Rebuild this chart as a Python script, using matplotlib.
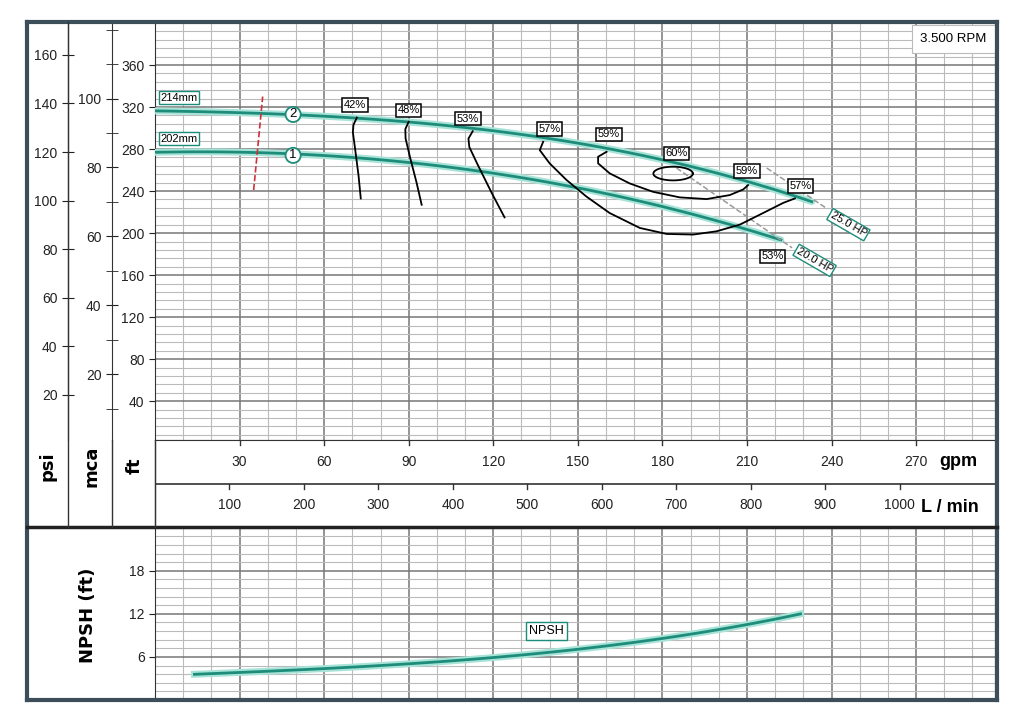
import matplotlib
matplotlib.use('Agg')
import matplotlib.pyplot as plt
import numpy as np
from matplotlib.lines import Line2D
from matplotlib.ticker import MultipleLocator

plt.rcParams['font.family'] = ['Liberation Sans Narrow', 'Liberation Sans', 'DejaVu Sans']

# head curves (gpm, ft)
imp214_q = [0, 49, 90, 120, 149, 181, 211, 233]
imp214_h = [316, 314, 305, 297, 286, 269, 250, 229]
imp202_q = [0, 49, 90, 120, 149, 181, 211, 222]
imp202_h = [277, 275, 268, 257, 243, 224, 205, 192]

# efficiency iso-lines (gpm, ft)
eff42_q = [71.6, 70.4, 70.2, 71.0, 72.2, 73.0]
eff42_h = [310, 303, 296, 280, 255, 233]
eff48_q = [90.0, 88.8, 88.9, 90.5, 92.8, 94.6]
eff48_h = [306, 299, 290, 272, 248, 227]
eff53_q = [112.7, 111.2, 111.5, 114.5, 119.5, 124.0]
eff53_h = [297, 290, 282, 265, 238, 215]
eff57_q = [137.7, 136.5, 140.0, 145.9, 153.0, 161.3, 172.0, 181.5, 190.9, 199.2, 207.5, 215.8, 222.9, 227.0]
eff57_h = [286.9, 279.0, 266.4, 250.8, 234.9, 219.1, 204.9, 199.2, 198.6, 201.7, 208.1, 219.2, 228.8, 233.0]
eff59_q = [160.2, 157.2, 157.2, 161.3, 168.4, 176.7, 186.2, 195.7, 203.9, 208.7, 210.4]
eff59_h = [277.4, 272.7, 266.4, 256.9, 247.3, 239.3, 234.0, 232.4, 236.2, 241.6, 245.7]
eff60_c = (183.8, 256.7)
eff60_w, eff60_hh = 14.0, 13.0

# red dashed line (min flow)
red_q = [35.0, 38.2]
red_h = [241, 330]

# power lines
hp25_q = [217.0, 238.0]
hp25_h = [262, 224]
hp20_q = [185.0, 226.0]
hp20_h = [262, 186]

# NPSH
npsh_q = [14, 30, 60, 90, 120, 150, 180, 210, 229]
npsh_v = [3.6, 3.8, 4.4, 5.0, 6.0, 7.0, 8.6, 10.5, 12.0]

eff_labels = [('42%', 71, 322), ('48%', 90, 317), ('53%', 111, 309), ('57%', 140, 299),
              ('59%', 161, 294), ('60%', 185, 276), ('59%', 210, 259), ('57%', 229, 245),
              ('53%', 219, 178)]

gpm_ticks = [30, 60, 90, 120, 150, 180, 210, 240, 270]
lmin_ticks = [100, 200, 300, 400, 500, 600, 700, 800, 900, 1000]
psi_ticks = [20, 40, 60, 80, 100, 120, 140, 160]
mca_ticks = [20, 40, 60, 80, 100]
ft_ticks = [40, 80, 120, 160, 200, 240, 280, 320, 360]
npsh_ticks = [6, 12, 18]

W, H = 1024, 719
def rect(x0, y0, x1, y1):
    return [x0 / W, 1 - y1 / H, (x1 - x0) / W, (y1 - y0) / H]

FT_PER_PSI = 2.31
FT_PER_M = 3.281
QMAX = 298
YLO, YHI = 3, 401

teal = '#1d8c7a'
glow = '#a8e3d8'
frame_c = '#3c4e5a'

def smooth(q, v, deg=3):
    # draw a smooth line through the read points
    c = np.polyfit(q, v, deg)
    qq = np.linspace(q[0], q[-1], 120)
    return qq, np.polyval(c, qq)

fig = plt.figure(figsize=(10.24, 7.19), dpi=100)

def grid_style(ax, xminor, ymaj, ymin):
    ax.xaxis.set_major_locator(MultipleLocator(30))
    ax.xaxis.set_minor_locator(MultipleLocator(xminor))
    ax.yaxis.set_major_locator(MultipleLocator(ymaj))
    ax.yaxis.set_minor_locator(MultipleLocator(ymin))
    ax.grid(which='major', color='#777777', lw=1.1)
    ax.grid(which='minor', color='#bbbbbb', lw=0.8)
    ax.set_axisbelow(True)

# main head chart
ax = fig.add_axes(rect(155, 22, 995, 440))
ax.set_xlim(0, QMAX)
ax.set_ylim(YLO, YHI)
grid_style(ax, 10, 40, 8)
ax.tick_params(axis='x', which='both', length=0, labelbottom=False)
ax.set_yticks(ft_ticks)
ax.tick_params(axis='y', which='major', direction='out', length=4, labelsize=10, colors='#222222')
ax.tick_params(axis='y', which='minor', length=0)
for s in ax.spines.values():
    s.set_color('#333333')

for q, h in [(imp214_q, imp214_h), (imp202_q, imp202_h)]:
    qq, hh = smooth(q, h)
    ax.plot(qq, hh, color=glow, lw=5, solid_capstyle='round', zorder=3)
    ax.plot(qq, hh, color=teal, lw=2, zorder=4)
for q, h in [(eff42_q, eff42_h), (eff48_q, eff48_h), (eff53_q, eff53_h),
             (eff57_q, eff57_h), (eff59_q, eff59_h)]:
    ax.plot(q, h, color='black', lw=1.3, zorder=5)
t = np.linspace(0, 2 * np.pi, 100)
ax.plot(eff60_c[0] + eff60_w / 2 * np.cos(t), eff60_c[1] + eff60_hh / 2 * np.sin(t),
        color='black', lw=1.3, zorder=5)
ax.plot(red_q, red_h, color='#d0303a', lw=1.2, ls='--', zorder=5)
ax.plot(hp25_q, hp25_h, color='#999999', lw=1.1, ls='--', zorder=4)
ax.plot(hp20_q, hp20_h, color='#999999', lw=1.1, ls='--', zorder=4)

for txt, q, h in eff_labels:
    ax.text(q, h, txt, fontsize=8, ha='center', va='center', zorder=6,
            bbox=dict(boxstyle='square,pad=0.15', fc='white', ec='black', lw=1.1))
for txt, h in [('214mm', 329), ('202mm', 290)]:
    ax.text(2, h, txt, fontsize=8, ha='left', va='center', zorder=6,
            bbox=dict(boxstyle='square,pad=0.12', fc='white', ec=teal, lw=1))
for txt, h in [('2', 313), ('1', 274)]:
    ax.text(49, h, txt, fontsize=9.5, ha='center', va='center', zorder=6,
            bbox=dict(boxstyle='circle,pad=0.12', fc='white', ec=teal, lw=1.3))
ax.text(246, 208, '25.0 HP', fontsize=8, rotation=-30, ha='center', va='center', zorder=6,
        bbox=dict(boxstyle='square,pad=0.12', fc='white', ec=teal, lw=1))
ax.text(234, 174, '20.0 HP', fontsize=8, rotation=-30, ha='center', va='center', zorder=6,
        bbox=dict(boxstyle='square,pad=0.12', fc='white', ec=teal, lw=1))
ax.text(0.99, 0.96, '3.500 RPM', transform=ax.transAxes, fontsize=9.5, ha='right', va='center',
        zorder=6, bbox=dict(boxstyle='square,pad=0.6', fc='white', ec='#bbbbbb', lw=0.8))

# psi and mca scales
for (x0, x1), conv, ticks, minor in [((68, 112), FT_PER_PSI, psi_ticks, None),
                                      ((112, 155), FT_PER_M, mca_ticks, 10)]:
    a = fig.add_axes(rect(x0, 22, x1, 440))
    a.patch.set_alpha(0)
    a.set_ylim(YLO / conv, YHI / conv)
    a.set_xticks([])
    a.set_yticks(ticks)
    if minor:
        a.yaxis.set_minor_locator(MultipleLocator(minor))
    a.tick_params(axis='y', which='major', direction='inout', length=8, labelsize=10, colors='#222222')
    a.tick_params(axis='y', which='minor', direction='inout', length=8, colors='#222222')
    for k in ['top', 'right', 'bottom']:
        a.spines[k].set_visible(False)
    a.spines['left'].set_color('#333333')

# flow band
band = fig.add_axes(rect(155, 440, 995, 527))
band.set_xlim(0, QMAX)
band.set_ylim(0, 2)
band.set_xticks([])
band.set_yticks([])
band.axhline(1, color='#333333', lw=1.2)
for q in gpm_ticks:
    band.plot([q, q], [2, 1.88], color='#333333', lw=1)
    band.text(q, 1.5, str(q), fontsize=10, ha='center', va='center', color='#222222')
band.text(QMAX - 13, 1.5, 'gpm', fontsize=13, weight='bold', ha='center', va='center')
for l in lmin_ticks:
    q = l / 3.785
    band.plot([q, q], [1, 0.88], color='#333333', lw=1)
    band.text(q, 0.5, str(l), fontsize=10, ha='center', va='center', color='#222222')
band.text(QMAX - 16, 0.45, 'L / min', fontsize=13, weight='bold', ha='center', va='center')
for s in band.spines.values():
    s.set_color('#333333')

for x, txt in [(48, 'psi'), (92, 'mca'), (135, 'ft')]:
    fig.text(x / W, 1 - 466 / H, txt, rotation=90, fontsize=13, weight='bold',
             ha='center', va='center', family=['DejaVu Sans'])

# NPSH chart
axn = fig.add_axes(rect(155, 527, 995, 700))
axn.set_xlim(0, QMAX)
axn.set_ylim(0, 24.1)
grid_style(axn, 10, 6, 1.2)
axn.set_yticks(npsh_ticks)
axn.tick_params(axis='x', which='both', length=0, labelbottom=False)
axn.tick_params(axis='y', which='major', direction='out', length=4, labelsize=10, colors='#222222')
axn.tick_params(axis='y', which='minor', length=0)
for s in axn.spines.values():
    s.set_color('#333333')
qq, vv = smooth(npsh_q, npsh_v)
axn.plot(qq, vv, color=glow, lw=5, zorder=3)
axn.plot(qq, vv, color=teal, lw=2, zorder=4)
axn.text(139, 9.6, 'NPSH', fontsize=9, ha='center', va='center', zorder=6,
         bbox=dict(boxstyle='square,pad=0.25', fc='white', ec=teal, lw=1))
fig.text(88 / W, 1 - 615 / H, 'NPSH (ft)', rotation=90, fontsize=13, weight='bold',
         ha='center', va='center', family=['DejaVu Sans'])

# frame and separators
def fline(x0, y0, x1, y1, lw, c=frame_c):
    fig.add_artist(Line2D([x0 / W, x1 / W], [1 - y0 / H, 1 - y1 / H], color=c, lw=lw))

fline(27, 22, 27, 700, 3)
fline(997, 22, 997, 700, 3)
fline(27, 22, 997, 22, 3)
fline(27, 700, 997, 700, 3)
fline(27, 527, 997, 527, 2.5, '#222222')
fline(68, 22, 68, 527, 1, '#333333')
fline(112, 440, 112, 527, 1, '#333333')
fline(155, 440, 155, 527, 1, '#333333')

fig.savefig('out.png', dpi=100, facecolor='white')
